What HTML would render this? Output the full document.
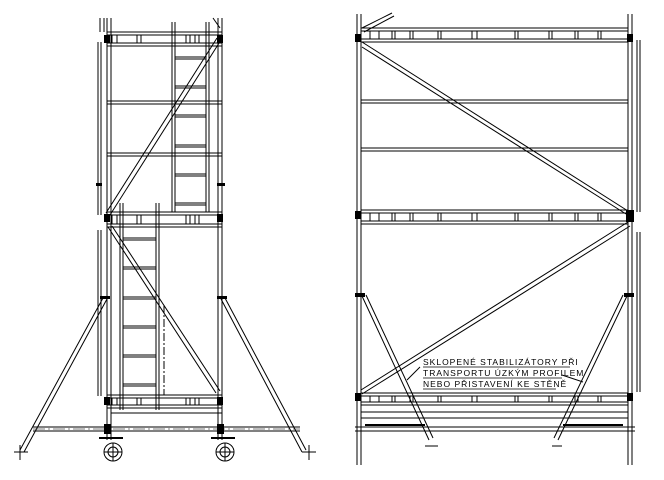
<!DOCTYPE html>
<html><head><meta charset="utf-8"><style>
html,body{margin:0;padding:0;background:#fff;width:664px;height:480px;overflow:hidden}
svg{display:block}
text{font-family:"Liberation Sans",sans-serif;font-size:8.5px;letter-spacing:1px;fill:#000}
</style></head><body>
<svg width="664" height="480" viewBox="0 0 664 480" xmlns="http://www.w3.org/2000/svg">
<g stroke="#000" stroke-width="1" fill="none" shape-rendering="crispEdges">
<line x1="107" y1="18" x2="107" y2="440"/><line x1="111" y1="18" x2="111" y2="440"/>
<line x1="218" y1="18" x2="218" y2="440"/><line x1="222" y1="18" x2="222" y2="440"/>
<line x1="98" y1="42" x2="98" y2="215"/><line x1="101" y1="42" x2="101" y2="215"/>
<line x1="98" y1="230" x2="98" y2="396"/><line x1="101" y1="230" x2="101" y2="396"/>
<line x1="100" y1="18" x2="100" y2="32"/><line x1="104" y1="18" x2="104" y2="32"/>
<line x1="107" y1="32" x2="222" y2="32"/><line x1="107" y1="35" x2="222" y2="35"/>
<line x1="107" y1="43" x2="222" y2="43"/><line x1="107" y1="46" x2="222" y2="46"/>
<line x1="107" y1="101" x2="222" y2="101"/><line x1="107" y1="104" x2="222" y2="104"/>
<line x1="107" y1="153" x2="222" y2="153"/><line x1="107" y1="156" x2="222" y2="156"/>
<line x1="107" y1="212" x2="222" y2="212"/><line x1="107" y1="215" x2="222" y2="215"/>
<line x1="107" y1="224" x2="222" y2="224"/><line x1="107" y1="227" x2="222" y2="227"/>
<line x1="107" y1="395" x2="222" y2="395"/><line x1="107" y1="398" x2="222" y2="398"/>
<line x1="107" y1="405" x2="222" y2="405"/><line x1="107" y1="408" x2="222" y2="408"/>
<line x1="111" y1="413" x2="222" y2="413"/>
<line x1="172" y1="22" x2="172" y2="212"/><line x1="175" y1="22" x2="175" y2="212"/>
<line x1="206" y1="22" x2="206" y2="212"/><line x1="209" y1="22" x2="209" y2="212"/>
<line x1="175" y1="57" x2="206" y2="57"/><line x1="175" y1="59" x2="206" y2="59"/>
<line x1="175" y1="86" x2="206" y2="86"/><line x1="175" y1="88" x2="206" y2="88"/>
<line x1="175" y1="115" x2="206" y2="115"/><line x1="175" y1="117" x2="206" y2="117"/>
<line x1="175" y1="145" x2="206" y2="145"/><line x1="175" y1="147" x2="206" y2="147"/>
<line x1="175" y1="174" x2="206" y2="174"/><line x1="175" y1="176" x2="206" y2="176"/>
<line x1="175" y1="203" x2="206" y2="203"/><line x1="175" y1="205" x2="206" y2="205"/>
<line x1="120" y1="203" x2="120" y2="410"/><line x1="123" y1="203" x2="123" y2="410"/>
<line x1="156" y1="203" x2="156" y2="410"/><line x1="159" y1="203" x2="159" y2="410"/>
<line x1="123" y1="238" x2="156" y2="238"/><line x1="123" y1="240" x2="156" y2="240"/>
<line x1="123" y1="267" x2="156" y2="267"/><line x1="123" y1="269" x2="156" y2="269"/>
<line x1="123" y1="297" x2="156" y2="297"/><line x1="123" y1="299" x2="156" y2="299"/>
<line x1="123" y1="326" x2="156" y2="326"/><line x1="123" y1="328" x2="156" y2="328"/>
<line x1="123" y1="355" x2="156" y2="355"/><line x1="123" y1="357" x2="156" y2="357"/>
<line x1="123" y1="384" x2="156" y2="384"/><line x1="123" y1="386" x2="156" y2="386"/>
<line x1="164" y1="305" x2="164" y2="395" stroke-dasharray="8,2,2,2"/>
</g>
<g stroke="#000" stroke-width="1" fill="none">
<line x1="217" y1="38" x2="106" y2="213"/><line x1="221" y1="40" x2="110" y2="215"/>
<line x1="108" y1="227" x2="216" y2="393"/><line x1="112" y1="226" x2="220" y2="391"/>
<line x1="213" y1="18" x2="220" y2="28"/>
<line x1="103" y1="298" x2="20" y2="450"/><line x1="107" y1="299" x2="24" y2="452"/>
<line x1="225" y1="298" x2="306" y2="450"/><line x1="221" y1="299" x2="302" y2="452"/>
<line x1="14" y1="452" x2="28" y2="452"/><line x1="20" y1="445" x2="20" y2="460"/>
<line x1="302" y1="452" x2="316" y2="452"/><line x1="309" y1="445" x2="309" y2="460"/>
<line x1="33" y1="427" x2="300" y2="427"/><line x1="33" y1="431" x2="300" y2="431"/>
<line x1="33" y1="429" x2="300" y2="429" stroke-dasharray="12,3,2,3" stroke-width="0.6"/>
<circle cx="113" cy="452" r="9"/><circle cx="113" cy="452" r="5"/>
<circle cx="225" cy="452" r="9"/><circle cx="225" cy="452" r="5"/>
<line x1="113" y1="443" x2="113" y2="461"/><line x1="104" y1="452" x2="122" y2="452"/>
<line x1="225" y1="443" x2="225" y2="461"/><line x1="216" y1="452" x2="234" y2="452"/>
<line x1="99" y1="438" x2="123" y2="438" stroke-width="2"/>
<line x1="211" y1="438" x2="235" y2="438" stroke-width="2"/>
</g>
<g fill="#000">
<rect x="104" y="35" width="6" height="8"/><rect x="217" y="35" width="6" height="8"/>
<rect x="104" y="214" width="6" height="8"/><rect x="217" y="214" width="6" height="8"/>
<rect x="104" y="397" width="6" height="8"/><rect x="217" y="397" width="6" height="8"/>
<rect x="104" y="424" width="7" height="10"/><rect x="217" y="424" width="7" height="10"/>
<rect x="100" y="296" width="10" height="3"/><rect x="217" y="296" width="10" height="3"/>
<rect x="96" y="183" width="6" height="3"/><rect x="217" y="183" width="8" height="3"/>
</g>

<g stroke="#000" stroke-width="1" fill="none" shape-rendering="crispEdges">
<line x1="357" y1="14" x2="357" y2="465"/><line x1="361" y1="14" x2="361" y2="465"/>
<line x1="628" y1="14" x2="628" y2="465"/><line x1="632" y1="14" x2="632" y2="465"/>
<line x1="637" y1="40" x2="637" y2="212"/><line x1="640" y1="40" x2="640" y2="212"/>
<line x1="637" y1="232" x2="637" y2="392"/><line x1="640" y1="232" x2="640" y2="392"/>
<line x1="361" y1="28" x2="628" y2="28"/><line x1="361" y1="31" x2="628" y2="31"/>
<line x1="361" y1="39" x2="628" y2="39"/><line x1="361" y1="42" x2="628" y2="42"/>
<line x1="361" y1="100" x2="628" y2="100"/><line x1="361" y1="103" x2="628" y2="103"/>
<line x1="361" y1="148" x2="628" y2="148"/><line x1="361" y1="151" x2="628" y2="151"/>
<line x1="361" y1="210" x2="628" y2="210"/><line x1="361" y1="213" x2="628" y2="213"/>
<line x1="361" y1="221" x2="628" y2="221"/><line x1="361" y1="224" x2="628" y2="224"/>
<line x1="361" y1="393" x2="628" y2="393"/><line x1="361" y1="396" x2="628" y2="396"/>
<line x1="361" y1="402" x2="628" y2="402"/><line x1="361" y1="405" x2="628" y2="405"/>
<line x1="361" y1="412" x2="628" y2="412"/>
<line x1="361" y1="418" x2="628" y2="418"/>
<line x1="355" y1="427" x2="635" y2="427"/><line x1="355" y1="431" x2="635" y2="431"/>
<path d="M370 31v8M379 31v8M392 31v8M395 31v8M410 31v8M413 31v8M438 31v8M441 31v8M472 31v8M477 31v8M515 31v8M518 31v8M549 31v8M552 31v8M575 31v8M578 31v8M598 31v8M601 31v8"/>
<path d="M370 213v8M379 213v8M392 213v8M395 213v8M410 213v8M413 213v8M438 213v8M441 213v8M472 213v8M477 213v8M515 213v8M518 213v8M549 213v8M552 213v8M575 213v8M578 213v8M598 213v8M601 213v8"/>
<path d="M370 396v6M379 396v6M392 396v6M395 396v6M410 396v6M413 396v6M438 396v6M441 396v6M472 396v6M477 396v6M515 396v6M518 396v6M549 396v6M552 396v6M575 396v6M578 396v6M598 396v6M601 396v6"/>
<path d="M112 35v8M117 35v8M137 35v8M141 35v8M186 35v8M190 35v8M195 35v8M199 35v8"/>
<path d="M112 215v9M117 215v9M137 215v9M141 215v9M186 215v9M190 215v9M195 215v9M199 215v9"/>
<path d="M112 398v7M117 398v7M137 398v7M141 398v7M186 398v7M190 398v7M195 398v7M199 398v7"/>
</g>
<g stroke="#000" stroke-width="1" fill="none">
<line x1="362" y1="42" x2="628" y2="211"/><line x1="362" y1="47" x2="626" y2="214"/>
<line x1="361" y1="390" x2="628" y2="222"/><line x1="362" y1="394" x2="630" y2="226"/>
<line x1="362" y1="28" x2="392" y2="13"/><line x1="364" y1="32" x2="394" y2="16"/>
<line x1="362" y1="296" x2="429" y2="440"/><line x1="366" y1="295" x2="433" y2="438"/>
<line x1="627" y1="296" x2="558" y2="440"/><line x1="623" y1="295" x2="554" y2="438"/>
<line x1="425" y1="446" x2="438" y2="446"/><line x1="552" y1="446" x2="562" y2="446"/>
<line x1="420" y1="367" x2="407" y2="380"/>
<line x1="562" y1="375" x2="583" y2="382"/>
</g>
<g fill="#000">
<rect x="355" y="34" width="6" height="8"/><rect x="627" y="34" width="6" height="8"/>
<rect x="355" y="211" width="6" height="8"/><rect x="626" y="210" width="8" height="12"/>
<rect x="355" y="393" width="6" height="8"/><rect x="627" y="393" width="6" height="8"/>
<rect x="355" y="293" width="10" height="4"/><rect x="624" y="293" width="10" height="4"/>
<rect x="365" y="424" width="60" height="2"/><rect x="563" y="424" width="60" height="2"/>
</g>
<text x="423" y="365">SKLOPENÉ STABILIZÁTORY PŘI</text>
<text x="423" y="376">TRANSPORTU ÚZKÝM PROFILEM</text>
<text x="423" y="387">NEBO PŘISTAVENÍ KE STĚNĚ</text>
<g stroke="#000" stroke-width="0.8">
<line x1="423" y1="367" x2="570" y2="367"/><line x1="423" y1="378" x2="562" y2="378"/><line x1="423" y1="389" x2="556" y2="389"/>
</g>
</svg>
</body></html>
